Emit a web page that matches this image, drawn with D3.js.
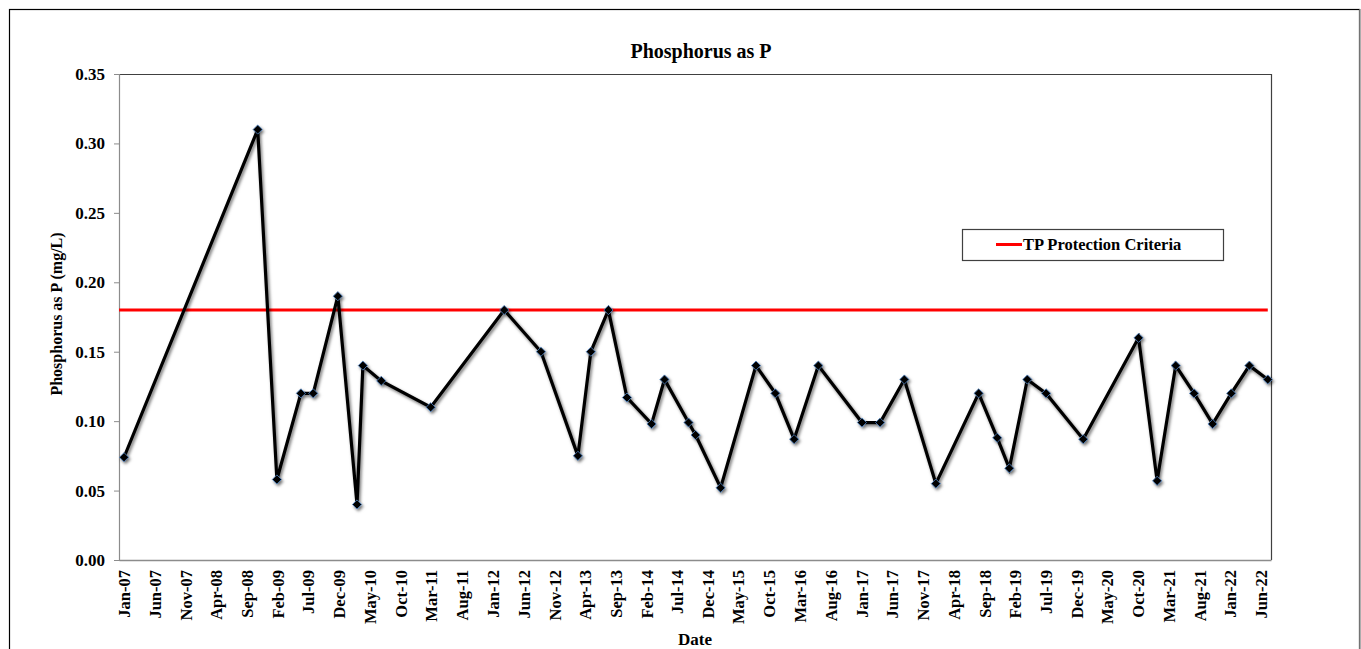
<!DOCTYPE html>
<html>
<head>
<meta charset="utf-8">
<script src="https://cdn.jsdelivr.net/npm/d3@7"></script>
<style>
  html, body { margin: 0; padding: 0; background: #fff; }
  svg { display: block; }
  svg text { font-family: "Liberation Serif", "Times New Roman", "DejaVu Serif", serif !important; font-weight: bold; fill: #000; }
</style>
</head>
<body>
<svg id="chart" width="1361" height="649"></svg>
<script>
// ---- Data ----
const sampleDates = [
  "2007-01-01", "2008-10-24", "2009-01-27", "2009-05-26", "2009-07-26",
  "2009-11-25", "2010-02-28", "2010-03-29", "2010-06-28", "2011-02-28",
  "2012-02-27", "2012-08-27", "2013-02-26", "2013-05-01", "2013-07-27",
  "2013-10-27", "2014-02-26", "2014-05-01", "2014-08-28", "2014-10-02",
  "2015-02-03", "2015-07-28", "2015-11-01", "2016-02-02", "2016-06-01",
  "2017-01-03", "2017-04-03", "2017-08-01", "2018-01-04", "2018-08-04",
  "2018-11-04", "2019-01-03", "2019-04-02", "2019-07-04", "2020-01-04",
  "2020-10-04", "2021-01-04", "2021-04-06", "2021-07-06", "2021-10-06",
  "2022-01-06", "2022-04-06", "2022-07-06"
];
const phosphorus = [
  0.074, 0.31, 0.058, 0.12, 0.12,
  0.19, 0.04, 0.14, 0.129, 0.11,
  0.18, 0.15, 0.075, 0.15, 0.18,
  0.117, 0.098, 0.13, 0.099, 0.09,
  0.052, 0.14, 0.12, 0.087, 0.14,
  0.099, 0.099, 0.13, 0.055, 0.12,
  0.088, 0.066, 0.13, 0.12, 0.087,
  0.16, 0.057, 0.14, 0.12, 0.098,
  0.12, 0.14, 0.13
];
const criteriaValue = 0.18;
const criteriaDates = ["2006-12-07", "2022-07-06"];
const xTickLabels = [
  "Jan-07","Jun-07","Nov-07","Apr-08","Sep-08","Feb-09","Jul-09","Dec-09",
  "May-10","Oct-10","Mar-11","Aug-11","Jan-12","Jun-12","Nov-12","Apr-13",
  "Sep-13","Feb-14","Jul-14","Dec-14","May-15","Oct-15","Mar-16","Aug-16",
  "Jan-17","Jun-17","Nov-17","Apr-18","Sep-18","Feb-19","Jul-19","Dec-19",
  "May-20","Oct-20","Mar-21","Aug-21","Jan-22","Jun-22"
];
const yTickValues = [0, 0.05, 0.10, 0.15, 0.20, 0.25, 0.30, 0.35];
const xDomain = ["2006-12-07", "2022-07-22"];
const yDomain = [0, 0.35];
const titleText = "Phosphorus as P";
const yTitle = "Phosphorus  as P (mg/L)";
const xTitle = "Date";
const legendLabel = "TP Protection Criteria";

// ---- Layout ----
const FONT = "'Liberation Serif', 'Times New Roman', 'DejaVu Serif', serif";
const parseISO = d3.timeParse("%Y-%m-%d");
const parseTick = d3.timeParse("%b-%y");
const plot = { left: 119, right: 1271, top: 74, bottom: 560 };

const svg = d3.select("#chart").attr("font-family", FONT);

const x = d3.scaleTime()
  .domain(xDomain.map(parseISO))
  .range([plot.left, plot.right]);
const y = d3.scaleLinear()
  .domain(yDomain)
  .range([plot.bottom, plot.top]);

// outer chart border
svg.append("rect")
  .attr("x", 9.5).attr("y", 9.5)
  .attr("width", 1350).attr("height", 660)
  .attr("fill", "#fff")
  .attr("stroke", "#000").attr("stroke-width", 1.2);
svg.append("line")
  .attr("x1", 1360).attr("x2", 1360).attr("y1", 9).attr("y2", 649)
  .attr("stroke", "#9a9a9a").attr("stroke-width", 1.5);

// shadow filter
const defs = svg.append("defs");
const f = defs.append("filter").attr("id", "shadow")
  .attr("x", "-5%").attr("y", "-5%").attr("width", "110%").attr("height", "110%");
f.append("feDropShadow")
  .attr("dx", 1.5).attr("dy", 2)
  .attr("stdDeviation", 1.4)
  .attr("flood-color", "#000").attr("flood-opacity", 0.55);

// plot frame: top & right dark
svg.append("line")
  .attr("x1", plot.left).attr("x2", plot.right)
  .attr("y1", plot.top + 0.5).attr("y2", plot.top + 0.5)
  .attr("stroke", "#404040").attr("stroke-width", 1);
svg.append("line")
  .attr("x1", plot.right + 0.5).attr("x2", plot.right + 0.5)
  .attr("y1", plot.top).attr("y2", plot.bottom)
  .attr("stroke", "#404040").attr("stroke-width", 1.2);

// Y axis
const yAxis = d3.axisLeft(y)
  .tickValues(yTickValues)
  .tickFormat(d3.format(".2f"))
  .tickSize(5)
  .tickPadding(9);
const gy = svg.append("g")
  .attr("transform", `translate(${plot.left},0)`)
  .call(yAxis)
  .attr("font-family", FONT);
gy.select(".domain").attr("stroke", "#8c8c8c").attr("stroke-width", 1.2);
gy.selectAll(".tick line").attr("stroke", "#8c8c8c");
gy.selectAll(".tick text")
  .attr("font-family", FONT)
  .style("font-weight", "bold")
  .style("font-size", "17px")
  .attr("fill", "#000");

// X axis
const xTickDates = xTickLabels.map(parseTick);
const xAxis = d3.axisBottom(x)
  .tickValues(xTickDates)
  .tickFormat((d, i) => xTickLabels[i])
  .tickSize(0)
  .tickPadding(0);
const gx = svg.append("g")
  .attr("transform", `translate(0,${plot.bottom})`)
  .call(xAxis)
  .attr("font-family", FONT);
gx.select(".domain").attr("stroke", "#8c8c8c").attr("stroke-width", 1.5);
gx.selectAll(".tick text")
  .attr("font-family", FONT)
  .style("font-weight", "bold")
  .style("font-size", "16.5px")
  .attr("fill", "#000")
  .attr("text-anchor", "end")
  .attr("transform", "rotate(-90)")
  .attr("x", -10)
  .attr("y", 0)
  .attr("dy", "0.35em");

// criteria line
svg.append("line")
  .attr("x1", x(parseISO(criteriaDates[0])))
  .attr("x2", x(parseISO(criteriaDates[1])))
  .attr("y1", y(criteriaValue)).attr("y2", y(criteriaValue))
  .attr("stroke", "#ff0000").attr("stroke-width", 3);

// data line
const pts = sampleDates.map((d, i) => ({ date: parseISO(d), value: phosphorus[i] }));
const line = d3.line().x(d => x(d.date)).y(d => y(d.value));
const series = svg.append("g").attr("filter", "url(#shadow)");
series.append("path")
  .datum(pts)
  .attr("d", line)
  .attr("fill", "none")
  .attr("stroke", "#000")
  .attr("stroke-width", 3.2)
  .attr("stroke-linejoin", "miter");
series.selectAll("path.marker")
  .data(pts)
  .enter().append("path")
  .attr("class", "marker")
  .attr("d", d3.symbol(d3.symbolSquare, 42))
  .attr("transform", d => `translate(${x(d.date)},${y(d.value)}) rotate(45)`)
  .attr("fill", "#000")
  .attr("stroke", "#4f81bd")
  .attr("stroke-width", 0.8);

// title
svg.append("text")
  .attr("x", 701).attr("y", 58)
  .attr("text-anchor", "middle")
  .style("font-size", "20px")
  .text(titleText);

// y title
svg.append("text")
  .attr("transform", `translate(62,${(plot.top + plot.bottom) / 2 - 3}) rotate(-90)`)
  .attr("text-anchor", "middle")
  .style("font-size", "16px")
  .text(yTitle);

// x title
svg.append("text")
  .attr("x", (plot.left + plot.right) / 2).attr("y", 645)
  .attr("text-anchor", "middle")
  .style("font-size", "17px")
  .text(xTitle);

// legend
const lg = svg.append("g").attr("transform", "translate(962,229)");
lg.append("rect")
  .attr("x", 0.5).attr("y", 0.5).attr("width", 261).attr("height", 31)
  .attr("fill", "#fff").attr("stroke", "#404040").attr("stroke-width", 1.2);
lg.append("line")
  .attr("x1", 34).attr("x2", 60).attr("y1", 15.5).attr("y2", 15.5)
  .attr("stroke", "#ff0000").attr("stroke-width", 3);
lg.append("text")
  .attr("x", 61).attr("y", 21)
  .style("font-size", "16.5px")
  .text(legendLabel);
</script>
</body>
</html>
